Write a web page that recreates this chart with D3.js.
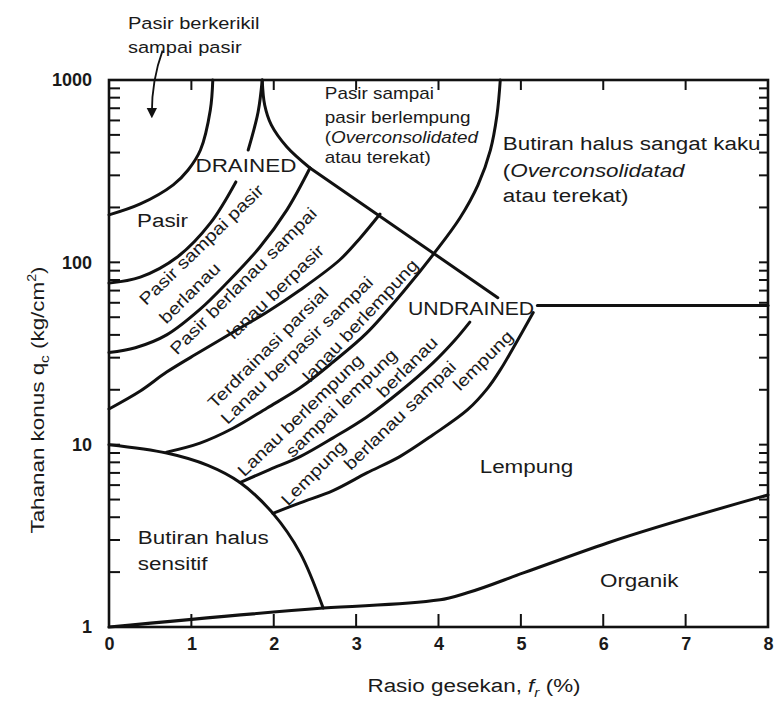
<!DOCTYPE html>
<html>
<head>
<meta charset="utf-8">
<script src="https://cdn.jsdelivr.net/npm/d3@7"></script>
<style>
  body { margin: 0; background: #fff; }
  svg text { font-family: "Liberation Sans", Arial, sans-serif; fill: #1a1a1a; }
</style>
</head>
<body>
<div id="chart"></div>
<script>
// ---- data: boundaries (fr in %, qc in kg/cm2) ----
const xTicks = [0, 1, 2, 3, 4, 5, 6, 7, 8];
const yDecades = [1, 10, 100, 1000];

const gravelFr = [1.26, 1.23, 1.11, 0.96, 0.78, 0.38, 0];
const gravelQc = [1000, 685, 413, 321, 266, 209, 182];

const sandUpperFr = [1.86, 1.81, 1.69];
const sandUpperQc = [1000, 668, 413];
const sandLowerFr = [1.54, 1.23, 0.83, 0.38, 0];
const sandLowerQc = [276, 164, 107, 83, 77];

const cuspFr = [1.86, 1.89, 1.97, 2.16, 2.44];
const cuspQc = [1000, 729, 567, 429, 329];

const diagFr = [2.44, 4.72];
const diagQc = [329, 64];

const siltySandFr = [2.44, 2.16, 1.83, 1.43, 1.10, 0.70, 0.32, 0];
const siltySandQc = [329, 194, 121, 77, 55, 40, 34, 32];

const sandySiltFr = [3.29, 3.05, 2.80, 2.32, 1.92, 1.51, 1.10, 0.70, 0.38, 0];
const sandySiltQc = [184, 136, 103, 70.5, 53.4, 41.5, 32.2, 25, 19.7, 15.7];

const bigArcFr = [4.75, 4.71, 4.63, 4.48, 4.26, 3.96, 3.59, 3.13, 2.72, 2.32, 1.92, 1.505, 1.105, 0.70];
const bigArcQc = [1000, 643, 413, 266, 175, 114, 70.5, 41, 28.4, 20.5, 15.9, 12.3, 10.2, 9.1];

const clayeySiltFr = [1.59, 1.95, 2.32, 2.72, 3.13, 3.53, 3.93, 4.20, 4.38];
const clayeySiltQc = [6.2, 7.3, 8.6, 10.9, 14.2, 19.5, 28, 37.5, 47];

const siltyClayFr = [1.99, 2.32, 2.72, 3.13, 3.53, 3.93, 4.35, 4.60, 4.75, 4.90, 5.15];
const siltyClayQc = [4.2, 4.8, 5.6, 7.0, 8.6, 11.3, 15.5, 20.5, 25.7, 33.5, 53];

const stiffFr = [5.2, 8];
const stiffQc = [58, 58];

const sensitiveFr = [0, 0.70, 1.20, 1.59, 1.99, 2.32, 2.60];
const sensitiveQc = [10, 9.0, 7.7, 6.2, 4.2, 2.55, 1.27];

const organicFr = [0, 2.6, 4.02, 4.35, 5.03, 6.05, 8.0];
const organicQc = [1, 1.27, 1.41, 1.54, 1.98, 2.89, 5.3];

// ---- layout ----
const W = 776, H = 704;
const SX = 1.18; // the printed lettering is wide
const svg = d3.select("#chart").append("svg").attr("width", W).attr("height", H);

const x = d3.scaleLinear().domain([0, 8]).range([109, 768]);
const y = d3.scaleLog().domain([1, 1000]).range([627, 80]);

const minorTicks = [];
[1, 10, 100].forEach(d => { for (let m = 1; m < 10; m++) minorTicks.push(d * m); });
minorTicks.push(1000);

// axes: labels from d3 axes, inward tick marks drawn as lines
const axLeft = svg.append("g").attr("transform", `translate(${x(0)},0)`)
  .call(d3.axisLeft(y).tickValues(yDecades).tickSize(0).tickPadding(17).tickFormat(d3.format("d")));
const axBottom = svg.append("g").attr("transform", `translate(0,${y(1)})`)
  .call(d3.axisBottom(x).tickValues(xTicks).tickSize(0).tickPadding(10).tickFormat(d3.format("d")));
[axLeft, axBottom].forEach(g => {
  g.select(".domain").remove();
  g.selectAll(".tick text").attr("font-size", 18).attr("font-weight", "bold")
    .attr("font-family", "Liberation Sans, Arial, sans-serif").attr("fill", "#111");
});

function tickLines(cls, values, x1, x2, y1, y2) {
  svg.selectAll("line." + cls).data(values).join("line")
    .attr("class", cls)
    .attr("x1", x1).attr("x2", x2).attr("y1", y1).attr("y2", y2)
    .style("stroke", "#111").style("stroke-width", "2px");
}
tickLines("tl", minorTicks, x(0), x(0) + 11, d => y(d), d => y(d));
tickLines("tr", minorTicks, x(8), x(8) - 9, d => y(d), d => y(d));
tickLines("tt", xTicks.slice(1, 8), d => x(d), d => x(d), y(1000), y(1000) + 10);
tickLines("tb", xTicks.slice(1, 8), d => x(d), d => x(d), y(1), y(1) - 13);

svg.append("rect")
  .attr("x", x(0)).attr("y", y(1000))
  .attr("width", x(8) - x(0)).attr("height", y(1) - y(1000))
  .attr("fill", "none").attr("stroke", "#111").attr("stroke-width", 2.6);

// ---- boundaries ----
const boundaries = [
  [gravelFr, gravelQc, d3.curveCatmullRom],
  [sandUpperFr, sandUpperQc, d3.curveCatmullRom],
  [sandLowerFr, sandLowerQc, d3.curveCatmullRom],
  [cuspFr, cuspQc, d3.curveCatmullRom],
  [diagFr, diagQc, d3.curveLinear],
  [siltySandFr, siltySandQc, d3.curveCatmullRom],
  [sandySiltFr, sandySiltQc, d3.curveCatmullRom],
  [bigArcFr, bigArcQc, d3.curveCatmullRom],
  [clayeySiltFr, clayeySiltQc, d3.curveCatmullRom],
  [siltyClayFr, siltyClayQc, d3.curveCatmullRom],
  [stiffFr, stiffQc, d3.curveLinear],
  [sensitiveFr, sensitiveQc, d3.curveCatmullRom],
  [organicFr, organicQc, d3.curveMonotoneX]
];

boundaries.forEach(([fr, qc, curve]) => {
  const line = d3.line().x(d => x(d[0])).y(d => y(d[1])).curve(curve);
  svg.append("path")
    .datum(fr.map((f, i) => [f, qc[i]]))
    .attr("d", line)
    .attr("fill", "none").attr("stroke", "#111")
    .attr("stroke-width", 3).attr("stroke-linecap", "round");
});

// ---- zone labels ----
const plainLabels = [
  { t: "Pasir berkerikil", f: 0.23, q: 2054, s: 17 },
  { t: "sampai pasir", f: 0.23, q: 1517, s: 17 },
  { t: "DRAINED", f: 1.05, q: 342, s: 19 },
  { t: "Pasir", f: 0.34, q: 171, s: 19 },
  { t: "Pasir sampai", f: 2.62, q: 849, s: 16 },
  { t: "pasir berlempung", f: 2.62, q: 627, s: 16 },
  { t: "atau terekat)", f: 2.62, q: 378, s: 16 },
  { t: "Butiran halus sangat kaku", f: 4.78, q: 451, s: 19 },
  { t: "atau terekat)", f: 4.78, q: 234, s: 19 },
  { t: "UNDRAINED", f: 3.63, q: 56, s: 18 },
  { t: "Lempung", f: 4.50, q: 7.6, s: 19 },
  { t: "Butiran  halus", f: 0.35, q: 3.1, s: 19 },
  { t: "sensitif", f: 0.35, q: 2.24, s: 19 },
  { t: "Organik", f: 5.96, q: 1.81, s: 19 }
];
plainLabels.forEach(l => {
  svg.append("text").attr("transform", `translate(${x(l.f)},${y(l.q)}) scale(${SX},1)`)
    .attr("dy", "0.35em").attr("font-size", l.s).text(l.t);
});

const italicLabels = [
  { t: "Overconsolidated", f: 2.62, q: 487, s: 16 },
  { t: "Overconsolidatad", f: 4.78, q: 321, s: 19 }
];
italicLabels.forEach(l => {
  const t = svg.append("text").attr("transform", `translate(${x(l.f)},${y(l.q)}) scale(${SX},1)`)
    .attr("dy", "0.35em").attr("font-size", l.s);
  t.append("tspan").text("(");
  t.append("tspan").attr("font-style", "italic").text(l.t);
});

const rotLabels = [
  { t: "Pasir sampai pasir", f: 1.12, q: 125, a: -44 },
  { t: "berlanau", f: 0.98, q: 68, a: -45 },
  { t: "Pasir berlanau sampai", f: 1.63, q: 79, a: -45 },
  { t: "lanau berpasir", f: 2.02, q: 69, a: -44 },
  { t: "Terdrainasi parsial", f: 1.93, q: 34, a: -45 },
  { t: "Lanau berpasir sampai", f: 2.28, q: 33, a: -44 },
  { t: "lanau berlempung", f: 3.05, q: 48, a: -47 },
  { t: "Lanau berlempung", f: 2.32, q: 14.5, a: -44 },
  { t: "sampai lempung", f: 2.82, q: 16.9, a: -44 },
  { t: "berlanau", f: 3.62, q: 26.7, a: -45 },
  { t: "Lempung", f: 2.48, q: 7.0, a: -45 },
  { t: "berlanau sampai", f: 3.53, q: 14.5, a: -44 },
  { t: "lempung", f: 4.54, q: 29, a: -45 }
];
rotLabels.forEach(l => {
  svg.append("text")
    .attr("transform", `translate(${x(l.f)},${y(l.q)}) rotate(${l.a}) scale(${SX},1)`)
    .attr("text-anchor", "middle").attr("dy", "0.35em")
    .attr("font-size", 17).text(l.t);
});

// arrow for gravel label
svg.append("defs").append("marker")
  .attr("id", "head").attr("viewBox", "0 0 10 10")
  .attr("refX", 5).attr("refY", 5)
  .attr("markerWidth", 6).attr("markerHeight", 8).attr("orient", "auto")
  .append("path").attr("d", "M0,0 L10,5 L0,10 z").attr("fill", "#111");

svg.append("path")
  .attr("d", `M${x(0.65)},${y(1450)} Q${x(0.52)},${y(1000)} ${x(0.52)},${y(660)}`)
  .attr("fill", "none").attr("stroke", "#111").attr("stroke-width", 1.8)
  .attr("marker-end", "url(#head)");

// ---- axis titles ----
const xt = svg.append("text")
  .attr("transform", `translate(474,692) scale(${SX},1)`)
  .attr("text-anchor", "middle").attr("font-size", 19);
xt.append("tspan").text("Rasio gesekan, ");
xt.append("tspan").attr("font-style", "italic").text("f");
xt.append("tspan").attr("font-style", "italic").attr("font-size", 13).attr("dy", 5).text("r");
xt.append("tspan").attr("dy", -5).text(" (%)");

const yt = svg.append("text")
  .attr("transform", `translate(44,400) rotate(-90) scale(${SX},1)`)
  .attr("text-anchor", "middle").attr("font-size", 19);
yt.append("tspan").text("Tahanan konus q");
yt.append("tspan").attr("font-size", 13).attr("dy", 5).text("c");
yt.append("tspan").attr("dy", -5).text(" (kg/cm");
yt.append("tspan").attr("font-size", 12).attr("dy", -8).text("2");
yt.append("tspan").attr("dy", 8).text(")");
</script>
</body>
</html>
